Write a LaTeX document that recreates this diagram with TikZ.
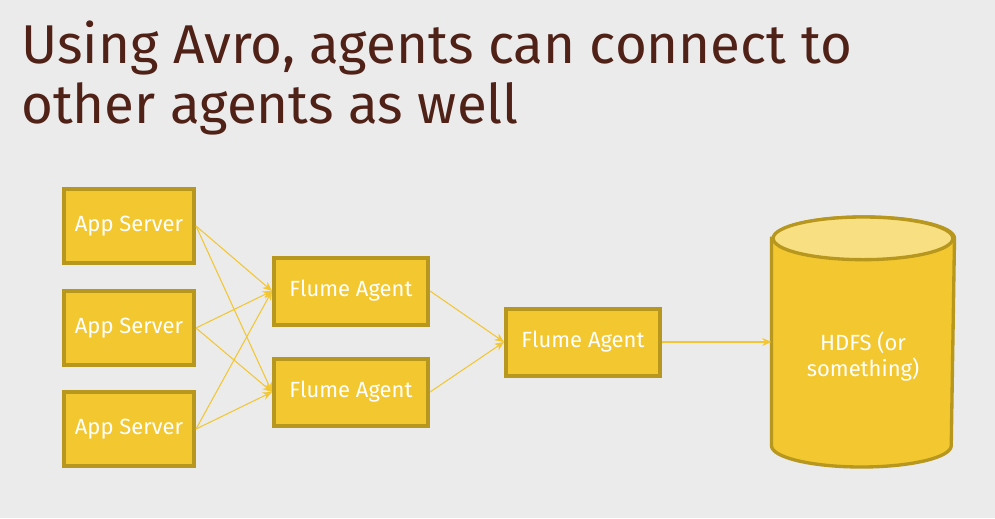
\documentclass[tikz,border=0pt]{standalone}
\usepackage{fontspec}
\setmainfont{Fira Sans}
\usetikzlibrary{positioning,arrows.meta}
\definecolor{slidebg}{HTML}{EBEBEB}
\definecolor{titlebrown}{HTML}{4F2117}
\definecolor{boxfill}{HTML}{F2C72F}
\definecolor{boxline}{HTML}{B8971F}
\definecolor{topfill}{HTML}{F8DF82}
\definecolor{arrowcol}{HTML}{F2C733}
\tikzset{
  server/.style={draw=boxline,fill=boxfill,line width=3pt,minimum width=97.5pt,minimum height=55.5pt,
    text=white,font=\fontsize{16.5}{20}\selectfont},
  agent/.style={server,minimum width=115.5pt,minimum height=50.25pt},
  flow/.style={draw=arrowcol,line width=0.8pt,-{Stealth[length=7pt,width=6pt]}},
  hdfsbox/.style={inner sep=0pt,outer sep=1.25pt,minimum width=134.75pt,minimum height=185pt}
}

\begin{document}
\begin{tikzpicture}[x=0.75pt,y=-0.75pt]
\fill[slidebg] (0,0) rectangle (995,518);
\useasboundingbox (0,0) rectangle (995,518);

% title
\node[anchor=north west,align=left,inner sep=0pt,text=titlebrown,
  font=\fontsize{41}{44.5}\selectfont] (title) at (21,21)
  {Using Avro, agents can connect to\\other agents as well};

% app servers
\node[server] (app1) at (129,226) {App Server};
\node[server] (app2) at (129,328) {App Server};
\node[server] (app3) at (129,429) {App Server};

% flume agents
\node[agent] (fa1) at (351,291) {Flume Agent};
\node[agent] (fa2) at (351,392) {Flume Agent};
\node[agent] (fa3) at (583,342) {Flume Agent};

% hdfs cylinder
\node[hdfsbox] (hdfs) at (863,342) {};
\path[fill=boxfill,draw=boxline,line width=2.5pt]
  ([yshift=-16pt]hdfs.north west) -- ([yshift=16pt]hdfs.south west)
  arc[start angle=180,end angle=360,x radius=67.4pt,y radius=16pt]
  -- ([yshift=-16pt]hdfs.north east)
  arc[start angle=0,end angle=180,x radius=67.4pt,y radius=16pt] -- cycle;
\path[fill=topfill,draw=boxline,line width=2.5pt]
  ([yshift=-16pt]hdfs.north) ellipse[x radius=67.4pt,y radius=16pt];
\node[align=center,text=white,font=\fontsize{16.5}{20}\selectfont] (hdfslabel)
  at ([yshift=-11pt]hdfs.center) {HDFS (or\\something)};

\foreach \a in {app1,app2,app3}
  \foreach \f in {fa1,fa2}
    \draw[flow] (\a.east) -- (\f.west);
\draw[flow] (fa1.east) -- (fa3.west);
\draw[flow] (fa2.east) -- (fa3.west);
\draw[flow] (fa3.east) -- (hdfs.west);
\end{tikzpicture}
\end{document}
